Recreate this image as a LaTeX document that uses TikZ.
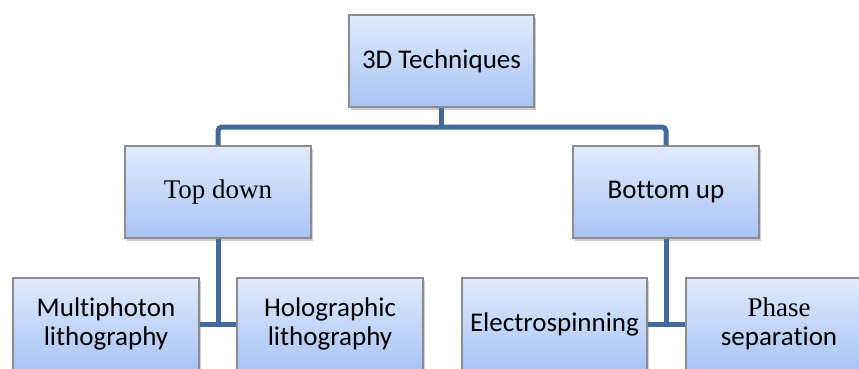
\documentclass[tikz,border=0pt]{standalone}
\usepackage{fontspec}
\setmainfont[Ligatures={NoCommon}]{Carlito}
\newfontfamily\serifface{Liberation Serif}
\usetikzlibrary{shadows}
\definecolor{conncol}{RGB}{66,106,154}
\definecolor{boxtop}{RGB}{224,234,252}
\definecolor{boxbot}{RGB}{168,196,245}
\definecolor{boxline}{RGB}{140,140,140}
\tikzset{
  box/.style={draw=boxline, line width=1.3pt, top color=boxtop, bottom color=boxbot,
    minimum width=186pt, minimum height=92pt, inner sep=0pt, align=center,
    font=\fontsize{27}{29}\selectfont,
    drop shadow={shadow xshift=1.5pt, shadow yshift=-3pt, opacity=0.35, fill=black!60}},
  conn/.style={draw=conncol, line width=5pt}
}
\begin{document}
\begin{tikzpicture}[x=1pt,y=-1pt]
\useasboundingbox (0,0) rectangle (859,368);
\clip (0,0) rectangle (859,368);
\node[box, minimum width=185pt] (top) at (441.5,61) {3D Techniques};
\node[box] (td) at (218,192) {{\serifface Top down}};
\node[box] (bu) at (666,192) {Bottom up};
\node[box] (mp) at (106,324) {Multiphoton\\lithography};
\node[box] (hl) at (330,324) {Holographic\\lithography};
\node[box, minimum width=185pt] (es) at (554.5,324) {Electrospinning};
\node[box] (ps) at (779,324) {{\serifface Phase}\\separation};
\coordinate (bar) at (441.5,127);
\coordinate (j1) at (218,324);
\coordinate (j2) at (666,324);
\draw[conn] (top.south) -- (bar);
\draw[conn, rounded corners=4pt] (td.north) |- (bar) -| (bu.north);
\draw[conn] (td.south) -- (j1);
\draw[conn] (mp.east) -- (hl.west);
\draw[conn] (bu.south) -- (j2);
\draw[conn] (es.east) -- (ps.west);
\end{tikzpicture}
\end{document}
